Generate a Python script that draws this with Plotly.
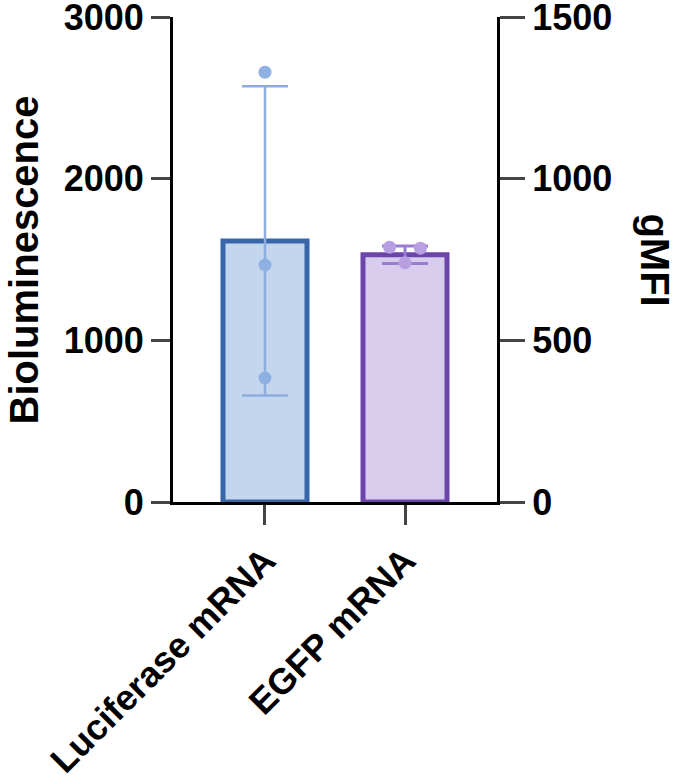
import plotly.graph_objects as go

# values
categories = ['Luciferase mRNA', 'EGFP mRNA']
luc_mean = 1615          # Bioluminescence (left axis)
luc_sd = 957
luc_points = [2659, 1466, 767]
egfp_mean = 765          # gMFI (right axis)
egfp_sd = 27
egfp_points = [788, 785, 740]
egfp_jitter = [-0.11, 0.11, 0.0]

left_ticks = [0, 1000, 2000, 3000]
right_ticks = [0, 500, 1000, 1500]

font = 'Liberation Sans'

fig = go.Figure()

fig.add_trace(go.Bar(
    x=[0], y=[luc_mean], width=0.6, yaxis='y',
    marker=dict(color='#c3d6ed', line=dict(color='#3767a8', width=5)),
    error_y=dict(type='data', array=[luc_sd], color='#8caddd', thickness=2.5, width=23),
    showlegend=False))
fig.add_trace(go.Scatter(
    x=[0] * len(luc_points), y=luc_points, mode='markers', yaxis='y',
    marker=dict(color='#8fb0e2', size=13), showlegend=False))

fig.add_trace(go.Bar(
    x=[1], y=[egfp_mean], width=0.6, yaxis='y2',
    marker=dict(color='#d8cdec', line=dict(color='#6b45aa', width=5)),
    error_y=dict(type='data', array=[egfp_sd], color='#9a7dd0', thickness=3, width=23),
    showlegend=False))
fig.add_trace(go.Scatter(
    x=[1 + j for j in egfp_jitter], y=egfp_points, mode='markers', yaxis='y2',
    marker=dict(color='#b89fe2', size=13), showlegend=False))

tickfont = dict(family=font, size=36, color='black', weight=700)
titlefont = dict(family=font, size=40, color='black', weight=700)

fig.update_layout(
    width=684, height=781,
    margin=dict(l=173, r=187, t=17, b=279),
    paper_bgcolor='white', plot_bgcolor='white',
    barmode='overlay',
    xaxis=dict(range=[-0.657, 1.657], tickvals=[0, 1], ticktext=categories,
               tickangle=-45, ticks='outside', ticklen=20, tickwidth=3,
               showline=True, linewidth=3, linecolor='black', automargin=False,
               showgrid=False, zeroline=False, tickfont=tickfont),
    yaxis=dict(range=[0, 3000], tickvals=left_ticks, ticks='outside', ticklen=19,
               tickwidth=3, showline=True, linewidth=3, linecolor='black',
               showgrid=False, zeroline=False, tickfont=tickfont,
               automargin=False, ticklabeloverflow='allow'),
    yaxis2=dict(range=[0, 1500], tickvals=right_ticks, overlaying='y', side='right',
                ticks='outside', ticklen=25, tickwidth=3, showline=True, linewidth=3,
                linecolor='black', showgrid=False, zeroline=False, tickfont=tickfont,
                automargin=False, ticklabeloverflow='allow'),
    annotations=[
        dict(text='Bioluminescence', x=-0.46, y=0.5, xref='paper', yref='paper',
             xanchor='center', yanchor='middle', textangle=-90, showarrow=False,
             font=titlefont),
        dict(text='gMFI', x=1.488, y=0.5, xref='paper', yref='paper',
             xanchor='center', yanchor='middle', textangle=90, showarrow=False,
             font=titlefont),
    ],
)

# drop the default page margin so the figure sits at the window's corner
fig.write_html('out.html', config={'displayModeBar': False},
               post_script="document.body.style.margin='0';")
